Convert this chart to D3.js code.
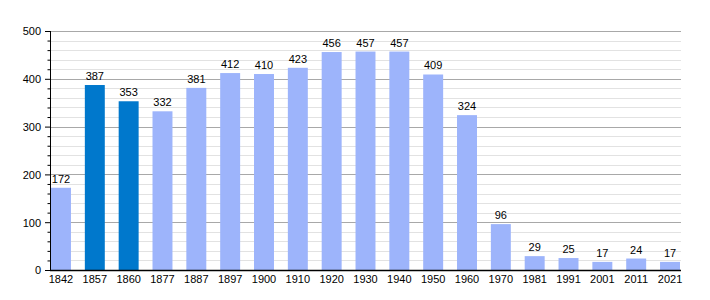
<!DOCTYPE html>
<html>
<head>
<meta charset="utf-8">
<script src="https://cdn.jsdelivr.net/npm/d3@7"></script>
<style>
  body { margin: 0; background: #fff; }
  text { font-family: "Liberation Sans", Arial, sans-serif; font-size: 11px; fill: #000; }
</style>
</head>
<body>
<div id="chart"></div>
<script>
// census years and population
const years = ["1842", "1857", "1860", "1877", "1887", "1897", "1900", "1910", "1920", "1930",
    "1940", "1950", "1960", "1970", "1981", "1991", "2001", "2011", "2021"]
const population = [172, 387, 353, 332, 381, 412, 410, 423, 456, 457, 457, 409, 324, 96, 29, 25, 17, 24, 17]
const highlighted = ["1857", "1860"]
const yTicks = [0, 100, 200, 300, 400, 500]

const margin = {top: 31, right: 29, bottom: 30, left: 50},
    width = 710 - margin.left - margin.right,
    height = 300 - margin.top - margin.bottom

const svg = d3.select("#chart")
    .append("svg")
    .attr("width", 710)
    .attr("height", 300)
    .append("g")
    .attr("transform", `translate(${margin.left},${margin.top})`)

const x = d3.scaleBand()
    .domain(years)
    .range([0, width - 2])
    .paddingInner(0.41)
    .paddingOuter(0)

const y = d3.scaleLinear()
    .domain([0, 500])
    .range([height, 0])

// minor gridlines every 20
svg.selectAll(".minor")
    .data(d3.range(20, 501, 20).filter(v => v % 100 !== 0))
    .enter()
    .append("line")
    .attr("x1", 0)
    .attr("x2", width)
    .attr("y1", v => Math.round(y(v)) + 0.5)
    .attr("y2", v => Math.round(y(v)) + 0.5)
    .attr("stroke", "#e2e2e2")

// major gridlines
svg.selectAll(".major")
    .data(yTicks.slice(1))
    .enter()
    .append("line")
    .attr("x1", 0)
    .attr("x2", width)
    .attr("y1", v => Math.round(y(v)) + 0.5)
    .attr("y2", v => Math.round(y(v)) + 0.5)
    .attr("stroke", "#a8a8a8")

// bars
svg.selectAll(".bar")
    .data(years)
    .enter()
    .append("rect")
    .attr("x", (d, i) => x(d) + 1)
    .attr("y", (d, i) => y(population[i]))
    .attr("width", x.bandwidth())
    .attr("height", (d, i) => height - y(population[i]))
    .attr("fill", d => highlighted.includes(d) ? "#0078cc" : "#9db4fb")

// value labels
svg.selectAll(".value")
    .data(years)
    .enter()
    .append("text")
    .attr("x", d => x(d) + 1 + x.bandwidth() / 2)
    .attr("y", (d, i) => y(population[i]) - 5)
    .attr("text-anchor", "middle")
    .text((d, i) => population[i])

// left axis
const yAxis = svg.append("g")
    .call(d3.axisLeft(y).tickValues(yTicks).tickSize(5).tickPadding(4))
yAxis.select(".domain").attr("stroke", "#000").attr("d", `M0.5,0V${height}`)
yAxis.selectAll("text").style("font-size", "11px").attr("dy", "0.35em")

svg.append("g")
    .call(d3.axisLeft(y).tickValues(d3.range(20, 500, 20).filter(v => v % 100 !== 0)).tickSize(3).tickFormat(""))
    .call(g => g.select(".domain").remove())
    .selectAll("line").attr("transform", "translate(0.5,0)")

// bottom axis
const xAxis = svg.append("g")
    .attr("transform", `translate(0,${height})`)
    .call(d3.axisBottom(x).tickSize(0).tickPadding(5))
xAxis.select(".domain").attr("stroke", "#000").attr("stroke-width", 1.5).attr("d", `M0,0.5H${width}`)
xAxis.selectAll(".tick").attr("transform", d => `translate(${x(d) + 1 + x.bandwidth() / 2},0)`)
xAxis.selectAll("text").style("font-size", "11px")
</script>
</body>
</html>
